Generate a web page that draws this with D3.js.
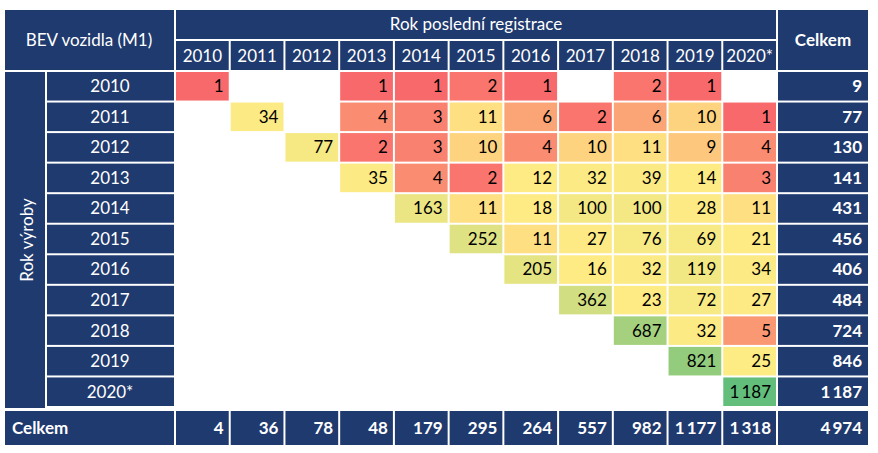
<!DOCTYPE html>
<html><head><meta charset="utf-8">
<script src="https://cdn.jsdelivr.net/npm/d3@7"></script>
<style>body{margin:0;background:#fff}text{font-family:Lato,"Open Sans",sans-serif}</style>
</head><body><svg id="c" width="878" height="453"></svg>
<script>
const regYears = ['2010','2011','2012','2013','2014','2015','2016','2017','2018','2019','2020*']
const prodYears = ['2010','2011','2012','2013','2014','2015','2016','2017','2018','2019','2020*']
// rows = rok vyroby, cols = rok posledni registrace (null = empty)
const counts = [
  [1,null,null,1,1,2,1,null,2,1,null],
  [null,34,null,4,3,11,6,2,6,10,1],
  [null,null,77,2,3,10,4,10,11,9,4],
  [null,null,null,35,4,2,12,32,39,14,3],
  [null,null,null,null,163,11,18,100,100,28,11],
  [null,null,null,null,null,252,11,27,76,69,21],
  [null,null,null,null,null,null,205,16,32,119,34],
  [null,null,null,null,null,null,null,362,23,72,27],
  [null,null,null,null,null,null,null,null,687,32,5],
  [null,null,null,null,null,null,null,null,null,821,25],
  [null,null,null,null,null,null,null,null,null,null,1187]
]
const rowTotals = [9,77,130,141,431,456,406,484,724,846,1187]
const colTotals = [4,36,78,48,179,295,264,557,982,1177,1318]
const grandTotal = 4974

const svg = d3.select('#c')
const navy = '#1f3a6e'
const fmt = v => d3.format(',')(v).replace(/,/g, '\u2009')

const x = d3.scaleBand().domain(regYears).range([176, 778]).paddingInner(0)
const y = d3.scaleBand().domain(prodYears).range([72, 408])
const gap = 2

const vals = counts.flat().filter(v => v != null).sort(d3.ascending)
const med = d3.quantile(vals, 0.5)
const color = d3.scaleLinear().domain([d3.min(vals), med, d3.max(vals)])
  .range(['#f8696b', '#ffeb84', '#63be7b'])

const cellText = (xx, yy, t, opt = {}) => svg.append('text')
  .attr('x', xx).attr('y', yy).attr('dy', '0.35em')
  .attr('text-anchor', opt.anchor || 'middle')
  .attr('fill', opt.fill || '#fff')
  .attr('font-size', opt.size || 17)
  .attr('font-weight', opt.bold ? 'bold' : 'normal')
  .attr('transform', opt.rot ? `rotate(-90,${xx},${yy})` : null)
  .text(t)
const box = (x0, y0, w, h, f) => svg.append('rect')
  .attr('x', x0).attr('y', y0).attr('width', w).attr('height', h).attr('fill', f)

// header
box(5, 10, 169, 60, navy)
cellText(89, 40, 'BEV vozidla (M1)')
box(176, 10, 600, 29, navy)
cellText(476, 24, 'Rok poslední registrace')
regYears.forEach(r => {
  box(x(r), 41, x.bandwidth() - gap, 29, navy)
  cellText(x(r) + (x.bandwidth() - gap) / 2, 56, r)
})
box(778, 10, 90, 60, navy)
cellText(823, 40, 'Celkem', {bold: true})

// left labels
box(5, 72, 40, 336, navy)
cellText(27, 240, 'Rok výroby', {rot: true})
prodYears.forEach(p => {
  box(47, y(p), 127, y.bandwidth() - gap, navy)
  cellText(110, y(p) + (y.bandwidth() - gap) / 2, p)
})

// cells
counts.forEach((row, i) => row.forEach((v, j) => {
  if (v == null) return
  const x0 = x(regYears[j]), y0 = y(prodYears[i])
  box(x0, y0, x.bandwidth() - gap, y.bandwidth() - gap, color(v))
  cellText(x0 + x.bandwidth() - 7, y0 + (y.bandwidth() - gap) / 2, fmt(v),
    {anchor: 'end', fill: '#000'})
}))

// row totals
rowTotals.forEach((t, i) => {
  const y0 = y(prodYears[i])
  box(778, y0, 90, y.bandwidth() - gap, navy)
  cellText(862, y0 + (y.bandwidth() - gap) / 2, fmt(t), {anchor: 'end', bold: true})
})

// column totals
box(5, 411, 169, 34, navy)
cellText(12, 428, 'Celkem', {anchor: 'start', bold: true})
colTotals.forEach((t, j) => {
  const x0 = x(regYears[j])
  box(x0, 411, x.bandwidth() - gap, 34, navy)
  cellText(x0 + x.bandwidth() - 7, 428, fmt(t), {anchor: 'end', bold: true})
})
box(778, 411, 90, 34, navy)
cellText(862, 428, fmt(grandTotal), {anchor: 'end', bold: true})
</script></body></html>
